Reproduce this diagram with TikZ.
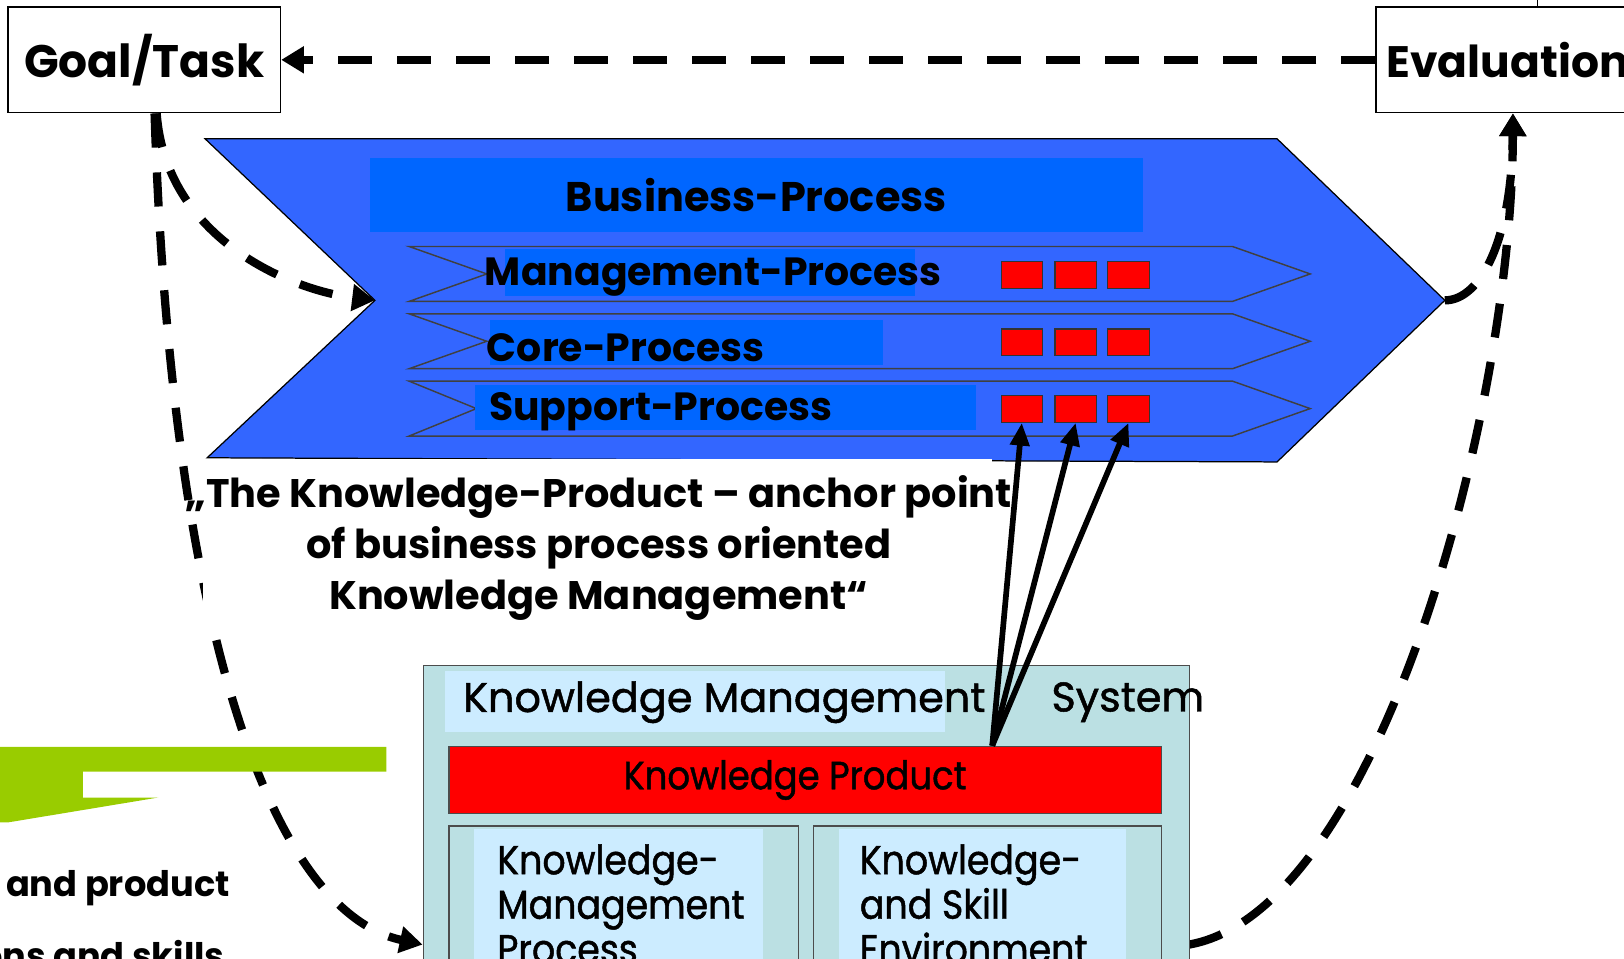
\documentclass[tikz,border=0pt]{standalone}
\usepackage{fontspec}
\setmainfont{Poppins}
\newfontfamily\medfont[FakeBold=1.2]{Poppins}
\newfontfamily\narrowfont[FakeStretch=0.9, FakeBold=1.2]{Poppins}
\usetikzlibrary{arrows.meta,positioning}

\definecolor{bpblue}{HTML}{3366FF}
\definecolor{lblblue}{HTML}{0066FF}
\definecolor{kmteal}{HTML}{BBE0E3}
\definecolor{kmlight}{HTML}{CCECFF}
\definecolor{kpred}{HTML}{FF0000}
\definecolor{bargreen}{HTML}{99CC00}

\tikzset{
  endbox/.style={draw, line width=1.5, fill=white, minimum height=102, inner sep=0,
    font=\bfseries\fontsize{44}{50}\selectfont},
  flowdash/.style={line width=8, dash pattern=on 33 off 24,
    -{Triangle[length=22,width=25]}},
  lane/.style={draw=black!75, fill=bpblue, line width=1.4},
  lanetxt/.style={font=\bfseries\fontsize{38}{44}\selectfont, inner sep=0},
  actbox/.style={draw=black!80, fill=kpred, line width=1.2, minimum width=40, minimum height=26, inner sep=0},
  kparrow/.style={line width=5.5, -{Triangle[length=22,width=18]}},
  kmbox/.style={draw=black!70, fill=kmteal, line width=1.2, inner sep=0},
  kmtxt/.style={font=\medfont\fontsize{40}{46}\selectfont, inner sep=0},
  subtxt/.style={font=\narrowfont\fontsize{39}{43}\selectfont, align=left, inner sep=0}
}

\begin{document}
\begin{tikzpicture}[x=1pt, y=-1pt]
    \useasboundingbox (0,0) rectangle (1568,925);

    % Goal / Evaluation
    % ---------------------
    \node[endbox, minimum width=263, anchor=north west] (goal) at (7,6) {Goal/Task};
    \node[endbox, minimum width=300, text width=296, align=left, anchor=north west,
        font=\bfseries\fontsize{42.5}{50}\selectfont] (eval) at (1328,6) {\hspace*{8pt}Evaluation};
    \draw[line width=1] (1484,0) -- (1484,6);
    \draw[flowdash] (eval.west) -- (goal.east);

    % Business process chevron
    % ---------------------
    \draw[fill=bpblue, line width=1.2] (198,134) -- (1233,134) -- (1395,290) coordinate (bptip)
        -- (1233,446) -- (200,442) -- (362,290) coordinate (bpnotch) -- cycle;
    \node[fill=lblblue, minimum width=746, minimum height=72, anchor=north west,
        font=\bfseries\fontsize{40}{46}\selectfont] (bp) at (357,152) {Business-Process};

    % Three lanes
    % ---------------------
    \foreach \y/\n in {238/470, 303/470, 368/460}
        \draw[lane] (395,\y) -- (1190,\y) -- (1265,\y+26.5) -- (1190,\y+53)
            -- (395,\y+53) -- (\n,\y+26.5) -- cycle;
    \fill[lblblue] (488,240) rectangle (883,286);
    \fill[lblblue] (473,309) rectangle (853,352);
    \fill[lblblue] (459,372) rectangle (942,415);
    \node[lanetxt, anchor=west] (mgmt) at (468,268) {Management-Process};
    \node[lanetxt, anchor=west] (core) at (470,336) {Core-Process};
    \node[lanetxt, anchor=west] (supp) at (472,398) {Support-Process};

    % activities
    \foreach \r/\y in {1/252, 2/317, 3/381}
        \foreach \c/\x in {1/966, 2/1018, 3/1069}
            \node[actbox, anchor=north west] (act\r\c) at (\x,\y) {};

    % dashed loops
    % ---------------------
    \coordinate (kmsin) at (408,912);
    \coordinate (kmsout) at (1148,912);
    \draw[flowdash] ([xshift=10]goal.south) .. controls (165,600) and (260,880) .. (kmsin);
    \draw[flowdash] ([xshift=12]goal.south) .. controls (160,230) and (280,280) .. (bpnotch);
    \draw[flowdash] (kmsout) .. controls (1330,880) and (1460,400) .. ([xshift=-18]eval.south);
    \draw[flowdash] (bptip) .. controls (1430,290) and (1460,230) .. ([xshift=-18]eval.south);

    % green bar, left texts
    \fill[bargreen] (0,721) -- (373,721) -- (373,745) -- (80,745) -- (80,770)
        -- (153,770) -- (8,794) -- (0,794) -- cycle;
    \node[anchor=base east, font=\bfseries\fontsize{34}{38}\selectfont, inner sep=0] (prodtxt) at (222,866) {and product};
    \node[anchor=base east, font=\bfseries\fontsize{34}{38}\selectfont, inner sep=0] (skilltxt) at (217,935) {ons and skills};

    % quote
    \node[fill=white, minimum width=762, minimum height=156, anchor=north west, inner sep=0] (quotebg) at (196,443) {};
    \node[align=center, font=\bfseries\fontsize{38.5}{49}\selectfont, inner sep=0] (quote) at (578,529)
        {\char"201EThe Knowledge-Product -- anchor point\\of business process oriented\\Knowledge Management\char"201C};

    % Knowledge management system
    % ---------------------
    \node[kmbox, minimum width=740, minimum height=320, anchor=north west] (kms) at (408,642) {};
    \fill[kmlight] (430,648) rectangle (912,707);
    \node[kmtxt, anchor=west] (kmstitle) at (447,678) {Knowledge Management};
    \node[kmtxt, anchor=west] (kmssys) at (1015,678) {System};
    \node[kmbox, fill=kpred, minimum width=688, minimum height=65, anchor=north west] (kp) at (433,720) {};
    \node[font=\narrowfont\fontsize{38}{42}\selectfont, inner sep=0] (kptxt) at ([xshift=-10]kp.center) {Knowledge Product};
    \node[kmbox, minimum width=337, minimum height=200, anchor=north west] (kmp) at (433,797) {};
    \fill[kmlight] (458,800) rectangle (737,930);
    \node[kmbox, minimum width=336, minimum height=200, anchor=north west] (kse) at (785,797) {};
    \fill[kmlight] (810,800) rectangle (1087,930);
    \node[subtxt, anchor=north west] (kmptxt) at (480,815) {Knowledge-\\Management\\Process};
    \node[subtxt, anchor=north west] (ksetxt) at (830,815) {Knowledge-\\and Skill\\Environment};

    % product anchors the activities
    \coordinate (kpfoot) at (958,720);
    \foreach \c in {1,2,3}
        \draw[kparrow] (kpfoot) -- (act3\c.south);
\end{tikzpicture}
\end{document}
